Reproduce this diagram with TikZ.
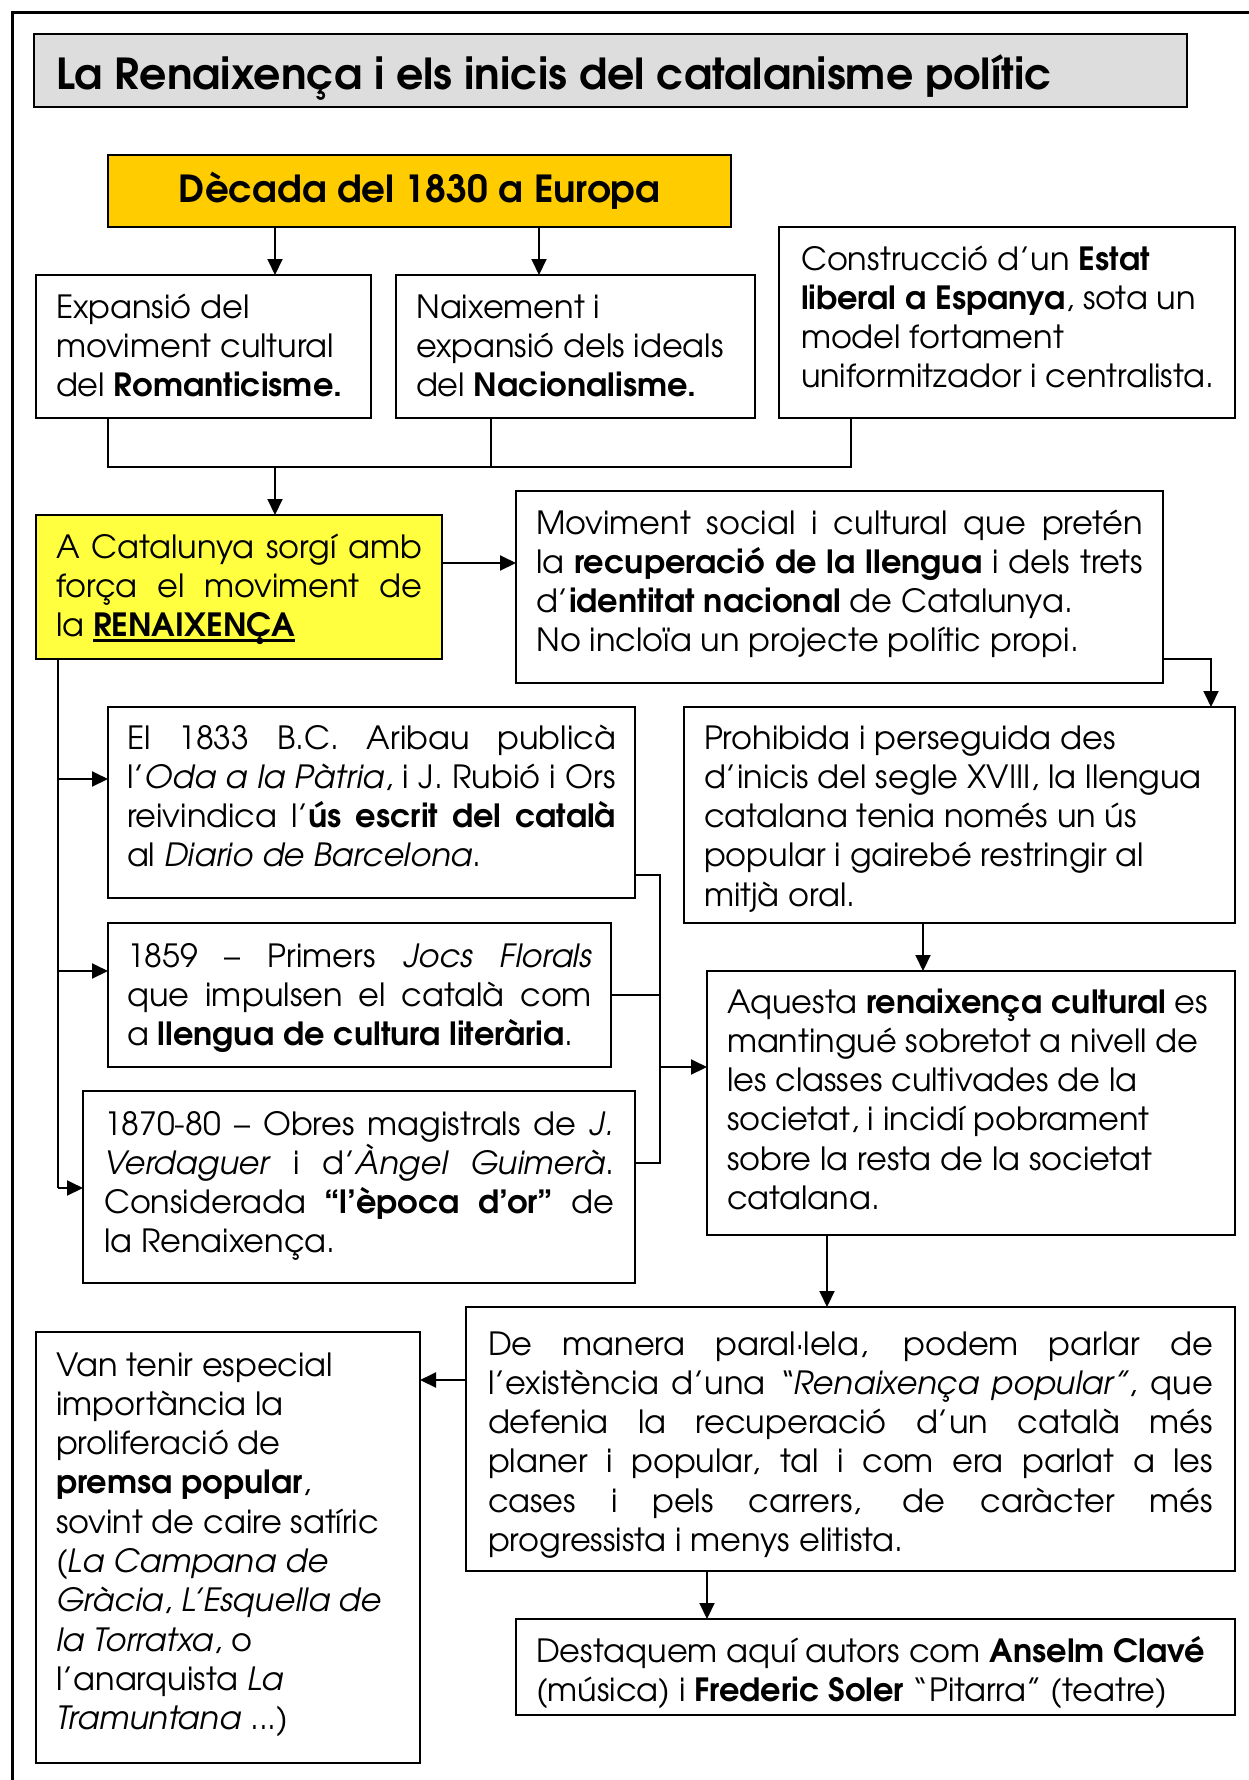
\documentclass[tikz,border=0pt]{standalone}
\usepackage{fontspec}
\setmainfont{TeX Gyre Adventor}
\usetikzlibrary{arrows.meta}
\definecolor{titlegray}{RGB}{221,221,221}
\definecolor{gold}{RGB}{255,204,0}
\definecolor{lemon}{RGB}{255,255,64}
\definecolor{lemongrid}{RGB}{238,238,60}

\newcommand\Jn[1]{\makebox[\hsize][s]{#1}}
\newcommand\Ln[1]{\makebox[\hsize][l]{#1}}
\newcommand\ulb[1]{\setbox0\hbox{#1}\rlap{\rule[-5pt]{\wd0}{2.8pt}}\box0}
\def\sth{27.5}
% #1 name, #2 style, #3 x1, #4 y1, #5 x2, #6 y2, #7 text left, #8 first baseline, #9 text
\newcommand\mkbox[9]{%
  \pgfmathsetmacro\px{#7-#3}%
  \pgfmathsetmacro\py{#8-#4-\sth}%
  \pgfmathsetmacro\bw{#5-#3-2*\px}%
  \pgfmathsetmacro\bh{#6-#4-2*\py}%
  \node[box,#2,inner xsep=\px pt,inner ysep=\py pt,anchor=north west] (#1) at (#3,#4)
    {\parbox[c][\bh pt][t]{\bw pt}{\rule{0pt}{\sth pt}#9}};%
}

\tikzset{
  box/.style={draw, line width=2pt, outer sep=0pt, fill=white,
    font=\fontsize{32}{39.3}\selectfont},
  conn/.style={line width=2pt},
  arr/.style={line width=2pt, -{Triangle[length=16pt,width=15pt]}},
  gridfill/.style={path picture={
    \foreach \gx in {63,93,...,440} \draw[lemongrid,line width=0.8pt] (\gx,515) -- (\gx,659);
    \foreach \gy in {543,572,600,628} \draw[lemongrid,line width=0.8pt] (36,\gy) -- (442,\gy);
  }},
}

\begin{document}
\begin{tikzpicture}[x=1pt,y=-1pt]
\useasboundingbox (0,0) rectangle (1249,1780);
\fill[white] (0,0) rectangle (1249,1780);
\draw[line width=3pt] (12,1780) -- (12,12) -- (1249,12);

% title
\def\sth{45}
\mkbox{title}{fill=titlegray, font=\fontsize{42.7}{50}\selectfont\bfseries}{34}{34}{1187}{107}{56}{89}{\Ln{La Renaixença i els inicis del catalanisme polític}}
\def\sth{37}
\mkbox{decada}{fill=gold, font=\fontsize{37.3}{44}\selectfont\bfseries}{108}{155}{731}{227}{118}{202}{\centering Dècada del 1830 a Europa}
\def\sth{27.5}

\mkbox{roman}{}{36}{275}{371}{418}{56}{318}{%
\Ln{Expansió del}\\
\Ln{moviment cultural}\\
\Ln{del \textbf{Romanticisme.}}}

\mkbox{nacio}{}{396}{275}{755}{418}{416}{318}{%
\Ln{Naixement i}\\
\Ln{expansió dels ideals}\\
\Ln{del \textbf{Nacionalisme.}}}

\mkbox{estat}{}{779}{227}{1235}{418}{801}{270}{%
\Ln{Construcció d’un \textbf{Estat}}\\
\Ln{\textbf{liberal a Espanya}, sota un}\\
\Ln{model fortament}\\
\Ln{uniformitzador i centralista.}}

\mkbox{renaix}{fill=lemon, gridfill}{36}{515}{442}{659}{56}{558}{%
\Jn{A Catalunya sorgí amb}\\
\Jn{força el moviment de}\\
\Ln{la \ulb{\textbf{RENAIXENÇA}}}}

\mkbox{movsoc}{}{516}{491}{1163}{683}{536}{534}{%
\Jn{Moviment social i cultural que pretén}\\
\Jn{la \textbf{recuperació de la llengua} i dels trets}\\
\Ln{d’\textbf{identitat nacional} de Catalunya.}\\
\Ln{No incloïa un projecte polític propi.}}

\mkbox{aribau}{}{108}{707}{635}{898}{127}{749}{%
\Jn{El 1833 B.C. Aribau publicà}\\
\Jn{l’\textit{Oda a la Pàtria}, i J. Rubió i Ors}\\
\Jn{reivindica l’\textbf{ús escrit del català}}\\
\Ln{al \textit{Diario de Barcelona}.}}

\mkbox{prohib}{}{684}{707}{1235}{923}{704}{749}{%
\Ln{Prohibida i perseguida des}\\
\Ln{d’inicis del segle XVIII, la llengua}\\
\Ln{catalana tenia només un ús}\\
\Ln{popular i gairebé restringir al}\\
\Ln{mitjà oral.}}

\mkbox{jocs}{}{108}{923}{611}{1067}{127}{967}{%
\Jn{1859 – Primers \textit{Jocs Florals}}\\
\Jn{que impulsen el català com}\\
\Ln{a \textbf{llengua de cultura literària}.}}

\mkbox{obres}{}{83}{1091}{635}{1283}{104}{1135}{%
\Jn{1870-80 – Obres magistrals de \textit{J.}}\\
\Jn{\textit{Verdaguer} i d’\textit{Àngel Guimerà}.}\\
\Jn{Considerada \textbf{“l’època d’or”} de}\\
\Ln{la Renaixença.}}

\mkbox{cultural}{}{707}{971}{1235}{1235}{727}{1013}{%
\Ln{Aquesta \textbf{renaixença cultural} es}\\
\Ln{mantingué sobretot a nivell de}\\
\Ln{les classes cultivades de la}\\
\Ln{societat, i incidí pobrament}\\
\Ln{sobre la resta de la societat}\\
\Ln{catalana.}}

\mkbox{popular}{}{466}{1307}{1235}{1571}{488}{1355}{%
\Jn{De manera paral·lela, podem parlar de}\\
\Jn{l’existència d’una \textit{“Renaixença popular”}, que}\\
\Jn{defenia la recuperació d’un català més}\\
\Jn{planer i popular, tal i com era parlat a les}\\
\Jn{cases i pels carrers, de caràcter més}\\
\Ln{progressista i menys elitista.}}

\mkbox{premsa}{}{36}{1332}{420}{1763}{56}{1376}{%
\Ln{Van tenir especial}\\
\Ln{importància la}\\
\Ln{proliferació de}\\
\Ln{\textbf{premsa popular},}\\
\Ln{sovint de caire satíric}\\
\Ln{(\textit{La Campana de}}\\
\Ln{\textit{Gràcia}, \textit{L’Esquella de}}\\
\Ln{\textit{la Torratxa}, o}\\
\Ln{l’anarquista \textit{La}}\\
\Ln{\textit{Tramuntana} ...)}}

\mkbox{autors}{}{516}{1619}{1235}{1715}{536}{1662}{%
\Ln{Destaquem aquí autors com \textbf{Anselm Clavé}}\\
\Ln{(música) i \textbf{Frederic Soler} “Pitarra” (teatre)}}

% connectors
\coordinate (c275) at (275,0);
\coordinate (c539) at (539,0);
\draw[arr] (decada.south -| c275) -- (roman.north -| c275);
\draw[arr] (decada.south -| c539) -- (nacio.north -| c539);

\coordinate (b1) at (108,467);
\coordinate (b2) at (491,467);
\coordinate (b3) at (851,467);
\coordinate (b0) at (275,467);
\draw[conn] (roman.south -| b1) -- (b1) -- (b3) -- (estat.south -| b3);
\draw[conn] (nacio.south -| b2) -- (b2);
\draw[arr] (b0) -- (renaix.north -| b0);

\coordinate (rm) at (0,563);
\draw[arr] (renaix.east |- rm) -- (movsoc.west |- rm);
\coordinate (mp) at (1211,659);
\draw[arr] (movsoc.east |- mp) -- (mp) -- (prohib.north -| mp);

\coordinate (lb) at (58,1188);
\coordinate (la1) at (58,779);
\coordinate (la2) at (58,971);
\draw[conn] (renaix.south -| lb) -- (lb);
\draw[arr] (la1) -- (aribau.west |- la1);
\draw[arr] (la2) -- (jocs.west |- la2);
\draw[arr] (lb) -- (obres.west |- lb);

\coordinate (k1) at (660,875);
\coordinate (k2) at (660,995);
\coordinate (k3) at (660,1163);
\coordinate (k4) at (660,1067);
\draw[conn] (aribau.east |- k1) -- (k1) -- (k3) -- (obres.east |- k3);
\draw[conn] (jocs.east |- k2) -- (k2);
\draw[arr] (k4) -- (cultural.west |- k4);

\coordinate (c923) at (923,0);
\draw[arr] (prohib.south -| c923) -- (cultural.north -| c923);
\coordinate (c827) at (827,0);
\draw[arr] (cultural.south -| c827) -- (popular.north -| c827);
\coordinate (dv) at (0,1380);
\draw[arr] (popular.west |- dv) -- (premsa.east |- dv);
\coordinate (c707) at (707,0);
\draw[arr] (popular.south -| c707) -- (autors.north -| c707);
\end{tikzpicture}
\end{document}
